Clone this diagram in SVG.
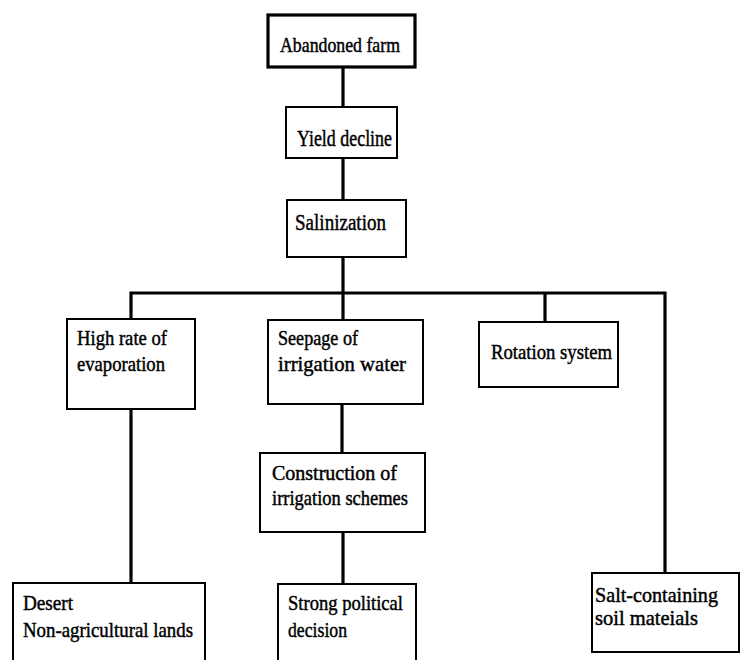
<svg xmlns="http://www.w3.org/2000/svg" width="741" height="660" viewBox="0 0 741 660">
<style>
.box{fill:#fff;stroke:#000;stroke-width:2}
.thick{stroke-width:3.2}
.con{fill:none;stroke:#000;stroke-width:3.2;stroke-linejoin:miter}
text{font-family:"Liberation Serif","DejaVu Serif",serif;font-size:21px;fill:#000;stroke:#000;stroke-width:0.45}
.big{font-size:23.5px}
</style>
<rect width="741" height="660" fill="#fff"/>
<g id="connectors">
<path class="con" d="M343,67 V107"/>
<path class="con" d="M343,158 V200"/>
<path class="con" d="M343,257 V320"/>
<path class="con" d="M131,320 V293 H665 V573"/>
<path class="con" d="M545,293 V322"/>
<path class="con" d="M131,409 V583"/>
<path class="con" d="M342,404 V453"/>
<path class="con" d="M343,532 V584"/>
</g>
<g id="abandoned">
<rect class="box thick" x="268" y="15" width="147" height="52"/>
<text x="280" y="52" textLength="120" lengthAdjust="spacingAndGlyphs">Abandoned farm</text>
</g>
<g id="yield">
<rect class="box" x="286" y="107" width="111" height="51"/>
<text class="big" x="297" y="146" textLength="95" lengthAdjust="spacingAndGlyphs">Yield decline</text>
</g>
<g id="salinization">
<rect class="box" x="287" y="200" width="119" height="57"/>
<text class="big" x="295" y="230" textLength="91" lengthAdjust="spacingAndGlyphs">Salinization</text>
</g>
<g id="evaporation">
<rect class="box" x="67" y="319" width="128" height="90"/>
<text x="77" y="345" textLength="90" lengthAdjust="spacingAndGlyphs">High rate of</text>
<text x="77" y="371" textLength="88" lengthAdjust="spacingAndGlyphs">evaporation</text>
</g>
<g id="seepage">
<rect class="box" x="268" y="320" width="155" height="84"/>
<text x="278" y="345" textLength="80" lengthAdjust="spacingAndGlyphs">Seepage of</text>
<text x="278" y="371" textLength="128" lengthAdjust="spacingAndGlyphs">irrigation water</text>
</g>
<g id="rotation">
<rect class="box" x="479" y="322" width="139" height="65"/>
<text x="491" y="359" textLength="121" lengthAdjust="spacingAndGlyphs">Rotation system</text>
</g>
<g id="construction">
<rect class="box" x="260" y="453" width="165" height="79"/>
<text x="272" y="480" textLength="125" lengthAdjust="spacingAndGlyphs">Construction of</text>
<text x="272" y="505" textLength="136" lengthAdjust="spacingAndGlyphs">irrigation schemes</text>
</g>
<g id="desert">
<rect class="box" x="13" y="583" width="192" height="100"/>
<text x="23" y="610" textLength="50" lengthAdjust="spacingAndGlyphs">Desert</text>
<text x="23" y="637" textLength="170" lengthAdjust="spacingAndGlyphs">Non-agricultural lands</text>
</g>
<g id="political">
<rect class="box" x="278" y="584" width="138" height="100"/>
<text x="288" y="610" textLength="115" lengthAdjust="spacingAndGlyphs">Strong political</text>
<text x="288" y="637" textLength="59" lengthAdjust="spacingAndGlyphs">decision</text>
</g>
<g id="salt">
<rect class="box" x="592" y="573" width="147" height="79"/>
<text x="595" y="602" textLength="123" lengthAdjust="spacingAndGlyphs">Salt-containing</text>
<text x="595" y="625" textLength="103" lengthAdjust="spacingAndGlyphs">soil mateials</text>
</g>
</svg>
